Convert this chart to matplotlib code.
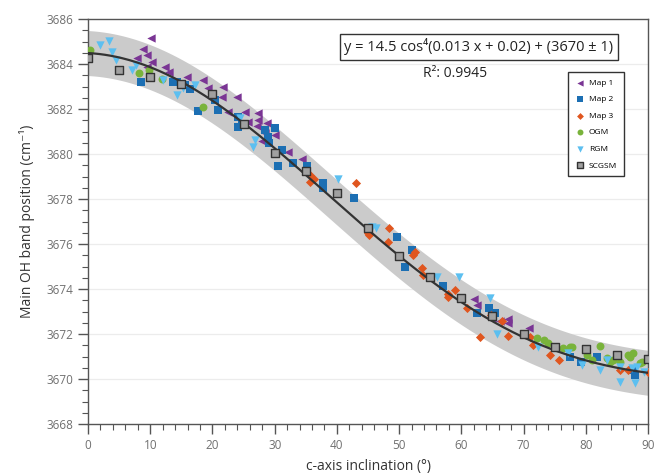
import numpy as np
import matplotlib
matplotlib.use("Agg")
import matplotlib.pyplot as plt
from matplotlib.ticker import MultipleLocator

plt.rcParams['font.family'] = ['Open Sans', 'DejaVu Sans']

# ---- data ----
map1_x = [10.1, 8.9, 7.9, 9.5, 10.3, 9.5, 12.4, 13.0, 15.9, 18.5, 19.3, 21.7, 21.5, 23.9, 22.5, 25.2, 25.7,
          27.3, 27.2, 28.8, 28.5, 30.1, 32.2, 34.4, 27.3, 28.0, 62.1, 62.5, 66.2, 67.5, 67.5, 70.9, 65.0]
map1_y = [3685.16, 3684.67, 3684.27, 3684.40, 3684.10, 3683.87, 3683.87, 3683.64, 3683.42, 3683.30, 3682.93,
          3683.00, 3682.53, 3682.53, 3681.87, 3681.87, 3681.42, 3681.82, 3681.24, 3681.38, 3680.93, 3680.84,
          3680.09, 3679.78, 3681.50, 3680.60, 3673.56, 3673.30, 3672.60, 3672.67, 3672.50, 3672.27, 3672.70]

map2_x = [8.5, 13.6, 14.3, 15.6, 16.4, 17.7, 20.9, 20.4, 24.1, 24.1, 24.7, 28.5, 30.1, 29.0, 29.1, 30.5, 31.2,
          33.0, 35.2, 37.8, 37.8, 42.8, 49.7, 51.0, 52.1, 57.0, 62.5, 64.5, 65.4, 77.5, 79.3, 81.8, 87.9, 87.6]
map2_y = [3683.20, 3683.20, 3683.20, 3683.07, 3682.90, 3681.90, 3681.96, 3682.40, 3681.64, 3681.20, 3681.29,
          3681.07, 3681.16, 3680.76, 3680.50, 3679.47, 3680.18, 3679.60, 3679.47, 3678.71, 3678.49, 3678.04,
          3676.31, 3674.98, 3675.73, 3674.13, 3672.93, 3673.16, 3672.93, 3671.00, 3670.76, 3671.00, 3670.18,
          3670.40]

map3_x = [35.7, 35.7, 36.3, 43.1, 45.0, 45.2, 48.4, 48.2, 52.6, 52.3, 53.7, 53.9, 57.9, 57.9, 59.0, 60.9, 63.0,
          64.8, 66.6, 67.5, 71.5, 71.0, 74.3, 75.7, 85.5, 86.7, 90.0]
map3_y = [3679.07, 3678.76, 3678.90, 3678.71, 3676.49, 3676.40, 3676.71, 3676.09, 3675.64, 3675.51, 3674.93,
          3674.62, 3673.64, 3673.80, 3673.96, 3673.16, 3671.87, 3672.84, 3672.58, 3671.91, 3671.51, 3671.87,
          3671.07, 3670.84, 3670.40, 3670.40, 3670.31]

ogm_x = [0.3, 8.2, 9.8, 11.9, 18.5, 72.2, 73.2, 74.0, 76.4, 77.5, 77.8, 80.2, 81.0, 82.3, 83.4, 83.9, 84.4,
         85.5, 86.7, 87.1, 87.6, 88.7, 89.1]
ogm_y = [3684.62, 3683.60, 3683.73, 3683.33, 3682.09, 3671.82, 3671.73, 3671.60, 3671.38, 3671.42, 3671.42,
         3671.07, 3670.84, 3671.47, 3670.93, 3670.76, 3670.84, 3670.76, 3671.07, 3670.98, 3671.16, 3670.71,
         3670.76]

rgm_x = [1.9, 3.4, 3.9, 4.5, 7.1, 7.7, 12.1, 14.3, 15.3, 17.2, 24.4, 26.5, 26.8, 40.2, 45.7, 46.3, 56.1, 59.6,
         64.6, 65.8, 72.3, 77.2, 79.4, 82.3, 83.4, 85.5, 85.5, 87.9, 87.5, 88.3, 89.3]
rgm_y = [3684.84, 3685.02, 3684.53, 3684.18, 3683.73, 3683.96, 3683.29, 3682.62, 3682.93, 3683.07, 3681.60,
         3680.31, 3680.62, 3678.89, 3676.76, 3676.71, 3674.53, 3674.53, 3673.60, 3672.00, 3671.42, 3671.16,
         3670.62, 3670.40, 3670.84, 3669.87, 3670.53, 3669.82, 3670.49, 3670.53, 3670.30]

scgsm_x = [0, 5, 10, 15, 20, 25, 30, 35, 40, 45, 50, 55, 60, 65, 70, 75, 80, 85, 90]
scgsm_y = [3684.27, 3683.73, 3683.42, 3683.10, 3682.67, 3681.33, 3680.04, 3679.24, 3678.27, 3676.71, 3675.47,
           3674.53, 3673.60, 3672.80, 3672.00, 3671.42, 3671.33, 3671.07, 3670.89]

# fit parameters shown on the chart
fit_a, fit_b, fit_c, fit_d, fit_err = 14.5, 0.013, 0.02, 3670.0, 1.0

x_ticks = [0, 10, 20, 30, 40, 50, 60, 70, 80, 90]
y_ticks = [3668, 3670, 3672, 3674, 3676, 3678, 3680, 3682, 3684, 3686]

# ---- figure ----
fig = plt.figure(figsize=(6.54, 4.76), dpi=100)
ax = fig.add_axes([0.1346, 0.1092, 0.8563, 0.8508])

xf = np.linspace(0, 90, 300)
yf = fit_a * np.cos(fit_b * xf + fit_c) ** 4 + fit_d
ax.fill_between(xf, yf - fit_err, yf + fit_err, color='#cbcbcb', lw=0, zorder=1)

for yt in y_ticks[1:-1]:
    ax.axhline(yt, color='#ececec', lw=0.9, zorder=0.5)

ms = 36
ax.scatter(map1_x, map1_y, marker='<', s=ms, color='#7a3594', lw=0, zorder=3, label='Map 1')
ax.scatter(map2_x, map2_y, marker='s', s=ms * 0.75, color='#1c6fb3', lw=0, zorder=3, label='Map 2')
ax.scatter(map3_x, map3_y, marker='D', s=ms * 0.6, color='#e0561f', lw=0, zorder=3, label='Map 3')
ax.scatter(ogm_x, ogm_y, marker='o', s=ms * 0.9, color='#79b33b', lw=0, zorder=3, label='OGM')
ax.scatter(rgm_x, rgm_y, marker='v', s=ms, color='#5cbff0', lw=0, zorder=3, label='RGM')
ax.plot(xf, yf, color='#333333', lw=1.6, zorder=4)
ax.scatter(scgsm_x, scgsm_y, marker='s', s=ms * 1.1, facecolor='#a0a0a0', edgecolor='#333333', lw=1.0,
           zorder=5, label='SCGSM')

ax.set_xlim(0, 90)
ax.set_ylim(3668, 3686)
ax.set_xticks(x_ticks)
ax.set_yticks(y_ticks)
ax.xaxis.set_minor_locator(MultipleLocator(2))
ax.yaxis.set_minor_locator(MultipleLocator(0.5))
ax.tick_params(which='major', direction='out', length=7, width=1, color='#555555', labelcolor='#707070',
               labelsize=8.5)
ax.tick_params(which='minor', direction='out', length=4, width=0.8, color='#555555')
for sp in ax.spines.values():
    sp.set_color('#555555')
    sp.set_linewidth(1.0)

ax.set_xlabel('c-axis inclination (°)', fontsize=10, color='#333333', labelpad=5)
ax.set_ylabel('Main OH band position (cm⁻¹)', fontsize=10, color='#333333', labelpad=8)

ax.text(0.698, 0.931, 'y = 14.5 cos⁴(0.013 x + 0.02) + (3670 ± 1)', transform=ax.transAxes,
        ha='center', va='center', fontsize=10.5, color='#222222', zorder=6,
        bbox=dict(boxstyle='square,pad=0.3', facecolor='white', edgecolor='#333333', lw=1.0))
ax.text(0.655, 0.866, 'R²: 0.9945', transform=ax.transAxes, ha='center', va='center', fontsize=10,
        color='#222222', zorder=6)

leg = ax.legend(loc='upper right', bbox_to_anchor=(0.964, 0.879), fontsize=6, frameon=True, fancybox=False,
                edgecolor='#333333', framealpha=1, borderpad=0.8, labelspacing=1.05, handletextpad=0.5,
                markerscale=0.75, handlelength=1.2)
leg.get_frame().set_linewidth(1.0)
leg.set_zorder(7)

fig.savefig('out.png', dpi=100)
